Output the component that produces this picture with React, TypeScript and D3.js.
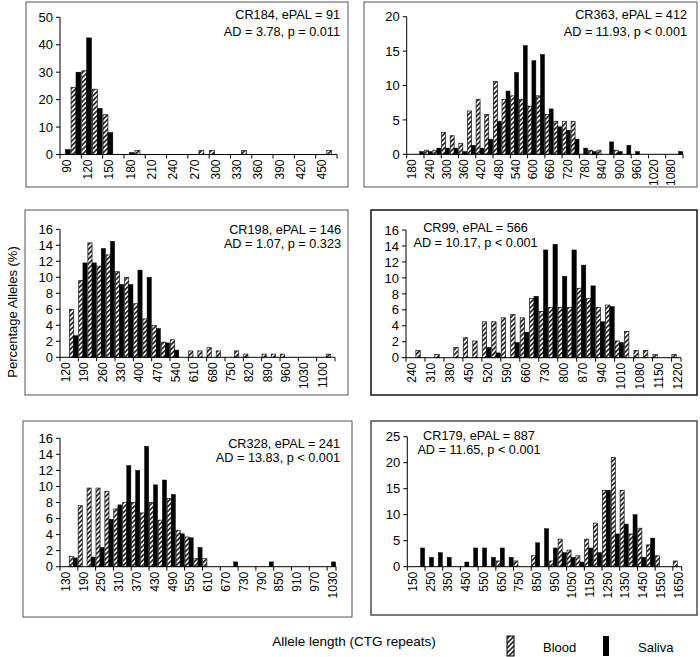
import React from "react";
import * as d3 from "d3";

// ---------- Data ----------
// Panel A: CR184
const catsA = [90,105,120,135,150,165,180,195,210,225,240,255,270,285,300,315,330,345,360,375,390,405,420,435,450,465];
const bloodA = [0,24.5,30.5,23.8,14.5,0,0,1.5,0,0,0,0,0,1.5,1.5,0,0,1.5,0,0,0,0,0,0,0,1.5];
const salivaA = [1.8,30,42.5,16.8,8,0,0.7,0,0,0,0,0,0,0,0,0,0,0,0,0,0,0,0,0,0,0];
const yTicksA = [0,10,20,30,40,50];

// Panel B: CR363
const catsB = [180,210,240,270,300,330,360,390,420,450,480,510,540,570,600,630,660,690,720,750,780,810,840,870,900,930,960,990,1020,1050,1080,1110];
const bloodB = [0,0,0.6,0.6,3.2,2.7,1.6,6.3,8,5.8,10.6,8,8.5,8,7,8.5,5.8,4.8,4.8,4.8,0,0.6,0.6,0,0.6,0,0,0,0,0,0,0];
const salivaB = [0,0.4,0.4,0.9,0.9,0.9,0.4,1.3,0.9,2.2,4.8,9.2,11.9,15.8,13.6,14.5,6.6,4.0,3.5,2.2,0.9,0.4,0,1.8,0.4,1.3,0.4,0,0,0,0,0.4];
const yTicksB = [0,5,10,15,20];

// Panel C: CR198
const catsC = [120,155,190,225,260,295,330,365,400,435,470,505,540,575,610,645,680,715,750,785,820,855,890,925,960,995,1030,1065,1100,1135];
const bloodC = [0,6,9.6,14.3,11.4,12.8,10.7,10,6.7,4.8,4,1.9,2.2,0,0.8,0.8,1.2,0.8,0,0.8,0.4,0,0.4,0.4,0.4,0,0,0,0,0.4];
const salivaC = [0,2.7,11.8,11.8,13.6,14.5,9.1,9.1,10.9,10,3.6,1.8,0.9,0,0,0,0,0,0,0,0,0,0,0,0,0,0,0,0,0];
const yTicksC = [0,2,4,6,8,10,12,14,16];

// Panel D: CR99
const catsD = [240,275,310,345,380,415,450,485,520,555,590,625,660,695,730,765,800,835,870,905,940,975,1010,1045,1080,1115,1150,1185,1220];
const bloodD = [0,0.9,0,0.4,0,1.3,2.5,2.1,4.5,4.5,5,5.4,5,7.4,5.8,6.3,6.3,6.3,8.7,7.4,6.3,6.6,2.1,3.3,0.9,0.9,0.4,0,0.4];
const salivaD = [0,0,0,0,0,0,0,0,1.3,0.6,0,1.9,3.2,7.7,13.5,14.2,10.2,13.5,11.6,9,4.5,6.4,1.9,0,0,0,0,0,0];
const yTicksD = [0,2,4,6,8,10,12,14,16];

// Panel E: CR328
const catsE = [130,160,190,220,250,280,310,340,370,400,430,460,490,520,550,580,610,640,670,700,730,760,790,820,850,880,910,940,970,1000,1030];
const bloodE = [0,1.3,7.6,9.8,9.8,9.4,7.2,8,8,6.7,8,5.8,8.5,4.5,3.7,1,1,0,0,0,0,0,0,0,0,0,0,0,0,0,0];
const salivaE = [0,1.1,0,1.2,2.4,5.9,7.7,12.6,12,15,10.2,10.8,9,4.1,3.6,2.4,0,0,0,0.6,0,0,0,0.6,0,0,0,0,0,0,0.6];
const yTicksE = [0,2,4,6,8,10,12,14,16];

// Panel F: CR179
const catsF = [150,200,250,300,350,400,450,500,550,600,650,700,750,800,850,900,950,1000,1050,1100,1150,1200,1250,1300,1350,1400,1450,1500,1550,1600,1650];
const bloodF = [0,0,0,0,0,0,0,0,0,0,1.1,0,1.1,0,2.1,0,1.1,5.3,3.2,2.1,5.3,8.4,14.7,21,14.7,6.3,7.4,4.2,2.1,0,1.1];
const salivaF = [0,3.6,1.8,2.7,1.8,0,0.9,3.6,3.6,1.8,3.6,1.8,0,0,4.6,7.3,3.6,2.7,1.8,0.9,3.6,2.7,14.7,6.3,8.2,10,1.8,5.5,0,0,0];
const yTicksF = [0,5,10,15,20,25];

const seriesNames = ["Blood", "Saliva"];
const xTitle = "Allele length (CTG repeats)";
const yTitle = "Percentage Alleles (%)";

// ---------- Layout ----------
type Panel = {
  cats: number[]; blood: number[]; saliva: number[]; yTicks: number[];
  x0: number; x1: number; yBase: number; yTop: number;
  box: [number, number, number, number];
  lines: string[]; tx: number; ty: number[]; anchor: "start" | "middle" | "end";
  boxW: number; boxC: string;
};

const panels: Panel[] = [
  { cats: catsA, blood: bloodA, saliva: salivaA, yTicks: yTicksA,
    x0: 60, x1: 337, yBase: 154.5, yTop: 17.3, box: [26, 2, 348, 187],
    lines: ["CR184, ePAL = 91", "AD = 3.78, p = 0.011"], tx: 340, ty: [19, 36], anchor: "end",
    boxW: 1, boxC: "#555" },
  { cats: catsB, blood: bloodB, saliva: salivaB, yTicks: yTicksB,
    x0: 406.7, x1: 683, yBase: 154.3, yTop: 16.7, box: [364, 2, 697, 187],
    lines: ["CR363, ePAL = 412", "AD = 11.93, p < 0.001"], tx: 687, ty: [18.5, 35.5], anchor: "end",
    boxW: 1, boxC: "#555" },
  { cats: catsC, blood: bloodC, saliva: salivaC, yTicks: yTicksC,
    x0: 60, x1: 335, yBase: 357.3, yTop: 229.3, box: [25, 210, 348, 395],
    lines: ["CR198, ePAL = 146", "AD = 1.07, p = 0.323"], tx: 341, ty: [233.5, 248], anchor: "end",
    boxW: 1, boxC: "#555" },
  { cats: catsD, blood: bloodD, saliva: salivaD, yTicks: yTicksD,
    x0: 406, x1: 681, yBase: 357.7, yTop: 230, box: [371, 210, 697, 395],
    lines: ["CR99, ePAL = 566", "AD = 10.17, p < 0.001"], tx: 475.5, ty: [231.5, 246.5], anchor: "middle",
    boxW: 1.6, boxC: "#222" },
  { cats: catsE, blood: bloodE, saliva: salivaE, yTicks: yTicksE,
    x0: 60, x1: 336, yBase: 566.7, yTop: 438.3, box: [23, 421, 352, 617],
    lines: ["CR328, ePAL = 241", "AD = 13.83, p < 0.001"], tx: 340, ty: [448, 462], anchor: "end",
    boxW: 1, boxC: "#555" },
  { cats: catsF, blood: bloodF, saliva: salivaF, yTicks: yTicksF,
    x0: 407.3, x1: 681.7, yBase: 566.7, yTop: 436.7, box: [371, 421, 697, 615],
    lines: ["CR179, ePAL = 887", "AD = 11.65, p < 0.001"], tx: 479, ty: [440, 454], anchor: "middle",
    boxW: 1.3, boxC: "#333" },
];

const FONT = "'Liberation Sans', Arial, Helvetica, sans-serif";

function PanelView({ p }: { p: Panel }) {
  const x = d3.scaleBand<string>()
    .domain(p.cats.map(String))
    .range([p.x0, p.x1])
    .paddingInner(0.08)
    .paddingOuter(0.04);
  const y = d3.scaleLinear()
    .domain([0, p.yTicks[p.yTicks.length - 1]])
    .range([p.yBase, p.yTop]);
  const sub = d3.scaleBand<string>().domain(seriesNames).range([0, x.bandwidth()]);
  const step = x.step();
  const gapHalf = (step - x.bandwidth()) / 2;
  const [bx0, by0, bx1, by1] = p.box;

  const tickXs: number[] = [];
  p.cats.forEach((c, i) => {
    if (i % 2 === 0) tickXs.push((x(String(c)) as number) - gapHalf);
  });
  tickXs.push(p.x1);

  return (
    <g>
      <rect x={bx0} y={by0} width={bx1 - bx0} height={by1 - by0} fill="white"
        stroke={p.boxC} strokeWidth={p.boxW} />
      {/* bars */}
      {p.cats.map((c, i) => {
        const bx = x(String(c)) as number;
        const out: React.ReactNode[] = [];
        const vb = p.blood[i];
        const vs = p.saliva[i];
        if (vb > 0) {
          out.push(
            <rect key={"b" + i} x={bx + (sub("Blood") as number)} y={y(vb)}
              width={sub.bandwidth()} height={p.yBase - y(vb)}
              fill="url(#hatch)" stroke="#111" strokeWidth={0.7} />
          );
        }
        if (vs > 0) {
          out.push(
            <rect key={"s" + i} x={bx + (sub("Saliva") as number)} y={y(vs)}
              width={sub.bandwidth()} height={p.yBase - y(vs)}
              fill="#000" stroke="#000" strokeWidth={0.5} />
          );
        }
        return out;
      })}
      {/* y axis */}
      <line x1={p.x0} x2={p.x0} y1={p.yBase} y2={p.yTop} stroke="#000" strokeWidth={1} />
      {p.yTicks.map((t) => (
        <g key={"yt" + t}>
          <line x1={p.x0 - 4} x2={p.x0} y1={y(t)} y2={y(t)} stroke="#000" strokeWidth={1} />
          <text x={p.x0 - 7} y={y(t)} dy="0.36em" textAnchor="end" fontSize={13}
            fontFamily={FONT} fill="#000">{t}</text>
        </g>
      ))}
      {/* x axis */}
      <line x1={p.x0} x2={p.x1} y1={p.yBase} y2={p.yBase} stroke="#000" strokeWidth={1} />
      {tickXs.map((tx, i) => (
        <line key={"xt" + i} x1={tx} x2={tx} y1={p.yBase} y2={p.yBase + 4} stroke="#000" strokeWidth={1} />
      ))}
      {p.cats.map((c, i) =>
        i % 2 === 0 ? (
          <text key={"xl" + i}
            transform={`translate(${(x(String(c)) as number) + x.bandwidth() / 2 + 1},${p.yBase + 5}) rotate(-90)`}
            dy="0.36em" textAnchor="end" fontSize={12} fontFamily={FONT} fill="#000">
            {c}
          </text>
        ) : null
      )}
      {/* annotation */}
      {p.lines.map((l, i) => (
        <text key={"an" + i} x={p.tx} y={p.ty[i]} textAnchor={p.anchor} fontSize={12.7}
          fontFamily={FONT} fill="#000">{l}</text>
      ))}
    </g>
  );
}

export default function App() {
  return (
    <svg width={700} height={657} viewBox="0 0 700 657"
      style={{ position: "absolute", left: 0, top: 0, display: "block", background: "white" }}>
      <defs>
        <pattern id="hatch" patternUnits="userSpaceOnUse" width={3.4} height={3.4}
          patternTransform="rotate(45)">
          <rect width={3.4} height={3.4} fill="#f4f4f4" />
          <line x1={0.8} y1={0} x2={0.8} y2={3.4} stroke="#111" strokeWidth={1.5} />
        </pattern>
      </defs>
      <rect x={0} y={0} width={700} height={657} fill="white" />
      {panels.map((p, i) => <PanelView key={i} p={p} />)}
      {/* y title */}
      <text transform="translate(12,312) rotate(-90)" dy="0.36em" textAnchor="middle"
        fontSize={13} fontFamily={FONT} fill="#000">{yTitle}</text>
      {/* x title */}
      <text x={354} y={646} textAnchor="middle" fontSize={13.5} fontFamily={FONT} fill="#000">{xTitle}</text>
      {/* legend */}
      <rect x={507} y={636} width={7} height={20} fill="url(#hatch)" stroke="#000" strokeWidth={1} />
      <text x={543} y={652} fontSize={13} fontFamily={FONT} fill="#000">{seriesNames[0]}</text>
      <rect x={603} y={636} width={6} height={20} fill="#000" />
      <text x={638} y={652} fontSize={13} fontFamily={FONT} fill="#000">{seriesNames[1]}</text>
    </svg>
  );
}
